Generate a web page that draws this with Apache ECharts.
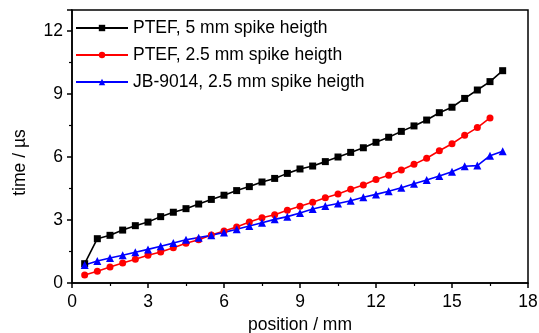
<!DOCTYPE html>
<html>
<head>
<meta charset="utf-8">
<script src="https://cdn.jsdelivr.net/npm/echarts@6/dist/echarts.min.js"></script>
<style>
    html, body { margin: 0; padding: 0; background: #fff; }
    #chart { width: 539px; height: 333px; }
</style>
</head>
<body>
<div id="chart"></div>
<script>
    // position / mm
    var positions = [0.5, 1, 1.5, 2, 2.5, 3, 3.5, 4, 4.5, 5, 5.5, 6, 6.5, 7, 7.5, 8, 8.5, 9,
        9.5, 10, 10.5, 11, 11.5, 12, 12.5, 13, 13.5, 14, 14.5, 15, 15.5, 16, 16.5, 17];

    // PTEF, 5 mm
    var ptef5 = [0.92, 2.11, 2.27, 2.52, 2.73, 2.90, 3.16, 3.37, 3.54, 3.76, 3.98, 4.18, 4.40, 4.59,
        4.81, 4.98, 5.22, 5.43, 5.57, 5.78, 6.00, 6.22, 6.44, 6.70, 6.94, 7.22, 7.48, 7.76,
        8.11, 8.37, 8.79, 9.19, 9.59, 10.11];

    // PTEF, 2.5 mm (ends at 16.5)
    var ptef25 = [0.38, 0.56, 0.76, 0.95, 1.13, 1.32, 1.48, 1.68, 1.89, 2.06, 2.29, 2.48, 2.67, 2.90,
        3.11, 3.25, 3.46, 3.65, 3.84, 4.06, 4.24, 4.46, 4.67, 4.93, 5.13, 5.38, 5.65, 5.94,
        6.30, 6.63, 7.03, 7.40, 7.86];

    // JB-9014, 2.5 mm
    var jb9014 = [0.86, 1.05, 1.19, 1.32, 1.46, 1.60, 1.75, 1.90, 2.06, 2.16, 2.27, 2.41, 2.56, 2.71,
        2.87, 3.03, 3.16, 3.33, 3.52, 3.67, 3.79, 3.92, 4.08, 4.22, 4.37, 4.54, 4.73, 4.90,
        5.10, 5.30, 5.56, 5.59, 6.06, 6.27];

    var seriesNames = ['PTEF, 5 mm spike heigth', 'PTEF, 2.5 mm spike heigth', 'JB-9014, 2.5 mm spike heigth'];

    function toPairs(values) {
        var out = [];
        for (var i = 0; i < values.length; i++) {
            out.push([positions[i], values[i]]);
        }
        return out;
    }

    var FONT = '"Liberation Sans", Arial, sans-serif';
    var FS = 17.5;

    function makeSeries(name, values, color, symbol, size) {
        return {
            name: name,
            type: 'line',
            data: toPairs(values),
            symbol: symbol,
            symbolSize: size,
            showSymbol: true,
            animation: false,
            lineStyle: { color: color, width: 1.6 },
            itemStyle: { color: color }
        };
    }

    var chart = echarts.init(document.getElementById('chart'));

    var axisCommon = {
        axisLine: { show: true, onZero: false, lineStyle: { color: '#000', width: 1.5 } },
        axisTick: { show: true, inside: false, length: 5, lineStyle: { color: '#000', width: 1.5 } },
        minorTick: { show: true, splitNumber: 2, length: 3, lineStyle: { color: '#000', width: 1.2 } },
        splitLine: { show: false }
    };

    chart.setOption({
        backgroundColor: '#fff',
        animation: false,
        grid: {
            left: 72, right: 11, top: 10, bottom: 50,
            outerBoundsMode: 'none',
            show: true, borderColor: '#000', borderWidth: 1.5
        },
        legend: {
            orient: 'vertical',
            left: 70,
            top: 14,
            itemWidth: 52,
            itemHeight: 8,
            itemGap: 9,
            textStyle: { color: '#000', fontSize: FS, fontFamily: FONT },
            data: seriesNames
        },
        xAxis: Object.assign({}, axisCommon, {
            type: 'value',
            min: 0,
            max: 18,
            interval: 3,
            name: 'position / mm',
            nameLocation: 'middle',
            nameGap: 30,
            nameTextStyle: { color: '#000', fontSize: FS, fontFamily: FONT },
            axisLabel: { color: '#000', fontSize: FS, fontFamily: FONT, margin: 10 }
        }),
        yAxis: Object.assign({}, axisCommon, {
            type: 'value',
            min: 0,
            max: 13,
            interval: 3,
            name: 'time / \u00b5s',
            nameLocation: 'middle',
            nameGap: 43,
            nameTextStyle: { color: '#000', fontSize: FS, fontFamily: FONT, padding: [0, 32, 0, 0] },
            axisLabel: { color: '#000', fontSize: FS, fontFamily: FONT, margin: 9, showMaxLabel: false }
        }),
        series: [
            makeSeries(seriesNames[0], ptef5, '#000000', 'rect', 7),
            makeSeries(seriesNames[1], ptef25, '#ff0000', 'circle', 7),
            makeSeries(seriesNames[2], jb9014, '#0000ff', 'triangle', 8)
        ]
    });
</script>
</body>
</html>
